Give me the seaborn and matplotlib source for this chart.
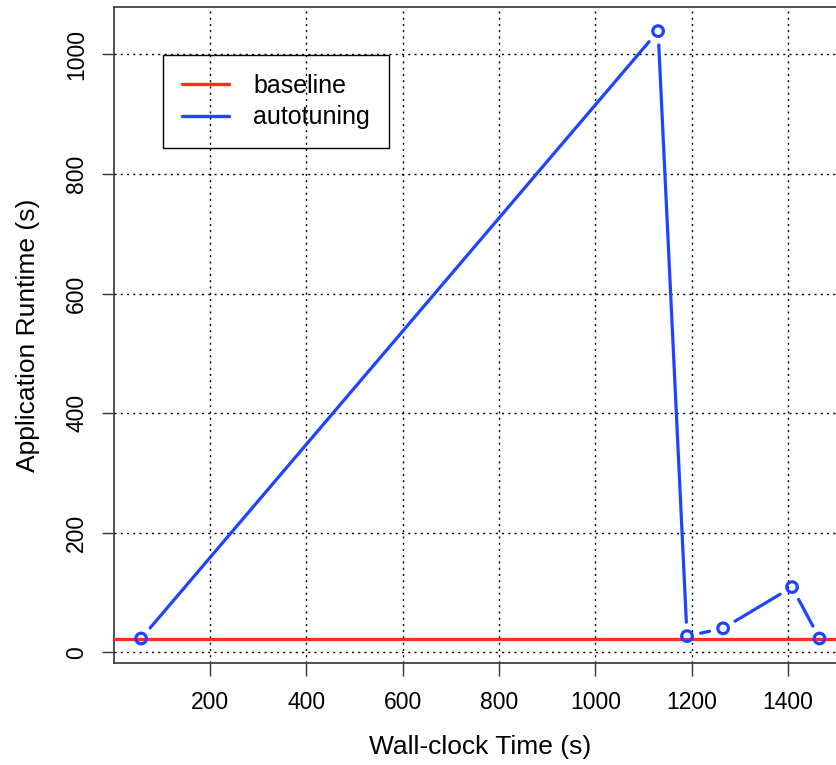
import matplotlib
matplotlib.use("Agg")
import matplotlib.pyplot as plt
from matplotlib.lines import Line2D
import seaborn as sns
import pandas as pd

# autotuning runs: wall-clock time vs application runtime
wall_time = [57, 1130, 1190, 1265, 1408, 1465]
app_runtime = [23, 1039, 27, 40, 109, 23]
baseline_runtime = 22

C_RED = "#ff2e1a"; C_BLUE = "#1f44ff"

sns.set_style("white")
plt.rcParams["font.family"] = ["Liberation Sans", "DejaVu Sans"]
plt.rcParams.update({"text.color": "black", "axes.labelcolor": "black",
                     "xtick.color": "black", "ytick.color": "black"})

df = pd.DataFrame({"wall": wall_time, "runtime": app_runtime})

fig = plt.figure(figsize=(8.37, 7.65), dpi=100)
ax = fig.add_axes([0.1362, 0.1328, 0.8753, 0.8583])

# R-like "b" type: segments with small gaps around points
for (x0, y0), (x1, y1) in zip(zip(wall_time[:-1], app_runtime[:-1]), zip(wall_time[1:], app_runtime[1:])):
    ax.annotate("", xy=(x1, y1), xytext=(x0, y0),
                arrowprops=dict(arrowstyle="-", color=C_BLUE, lw=2.3, shrinkA=10, shrinkB=10))
sns.scatterplot(data=df, x="wall", y="runtime", ax=ax, marker="o", s=58,
                facecolor="none", edgecolor=C_BLUE, linewidth=2.3, zorder=4)
ax.axhline(baseline_runtime, color=C_RED, lw=2.4, zorder=3)

span_x = max(wall_time) - min(wall_time)
span_y = max(app_runtime) - min(min(app_runtime), baseline_runtime)
ax.set_xlim(min(wall_time) - 0.04 * span_x, max(wall_time) + 0.04 * span_x)
ax.set_ylim(min(baseline_runtime, min(app_runtime)) - 0.04 * span_y, max(app_runtime) + 0.04 * span_y)

ax.set_xticks(range(200, 1401, 200))
ax.set_yticks(range(0, 1001, 200))
ax.grid(True, color="black", linestyle=(0, (1.5, 3)), linewidth=1)
ax.tick_params(axis="both", direction="out", length=9, width=1, labelsize=16.5,
               color="#333333", bottom=True, left=True)
ax.tick_params(axis="x", pad=11)
ax.tick_params(axis="y", pad=9.5)
for lbl in ax.get_yticklabels():
    lbl.set_rotation(90)
    lbl.set_va("center")
for s in ax.spines.values():
    s.set_color("#333333"); s.set_linewidth(1.2)

ax.set_xlabel("Wall-clock Time (s)", fontsize=19)
ax.set_ylabel("Application Runtime (s)", fontsize=19)
ax.xaxis.set_label_coords(0.5, -0.127)
ax.xaxis.label.set_va("center")
ax.yaxis.set_label_coords(-0.1174, 0.5)
ax.yaxis.label.set_va("center")

handles = [Line2D([], [], color=C_RED, lw=2.4), Line2D([], [], color=C_BLUE, lw=2.4)]
leg = ax.legend(handles, ["baseline", "autotuning"], loc="upper left",
                bbox_to_anchor=(0.0669, 0.9266), fontsize=18, frameon=True, fancybox=False,
                facecolor="none", edgecolor="black", handlelength=1.9, handletextpad=0.95,
                borderpad=0.75, borderaxespad=0, labelspacing=0.3)
leg.get_frame().set_linewidth(1)
leg.get_frame().set_alpha(None)

fig.savefig("out.png", dpi=100)
